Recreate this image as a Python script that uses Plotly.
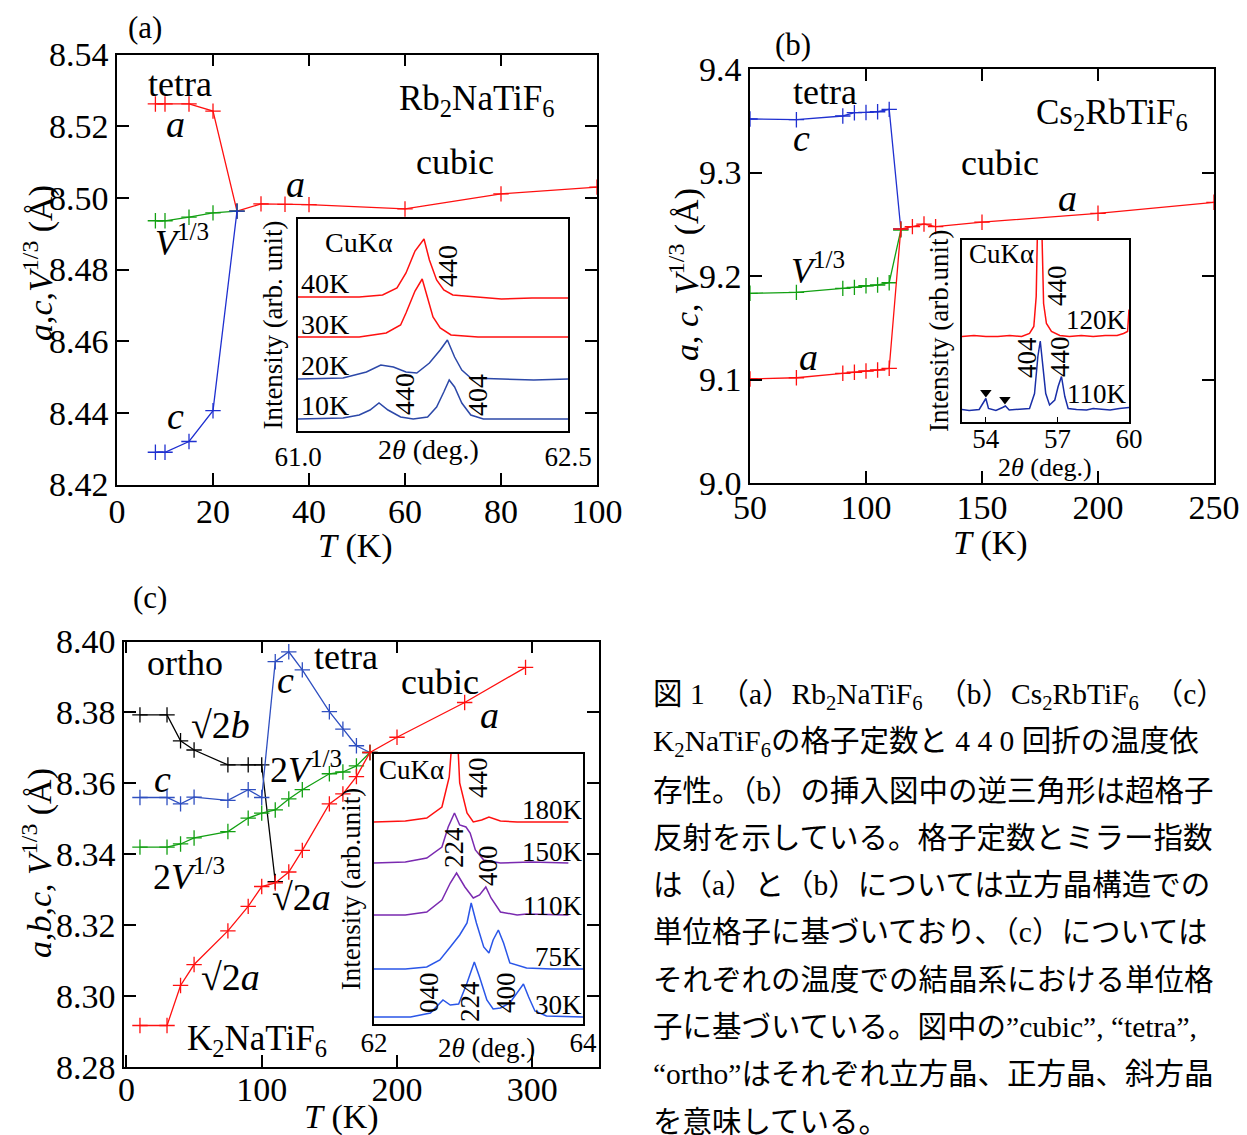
import plotly.graph_objects as go

W, H = 1247, 1135
SERIF = "Liberation Serif"
CAPF = "Liberation Serif, Noto Sans CJK JP"

# ---------------- Panel (a): Rb2NaTiF6 ----------------
a_T_a = [8, 10, 15, 20, 25, 30, 35, 40, 60, 80, 100]
a_a = [8.5262, 8.5262, 8.5262, 8.5242, 8.4963, 8.4983, 8.4982, 8.4981, 8.4969, 8.5011, 8.5030]
a_T_v = [8, 10, 15, 20, 25]
a_v = [8.4936, 8.4936, 8.4946, 8.4958, 8.4963]
a_T_c = [8, 10, 15, 20, 25]
a_c = [8.4290, 8.4290, 8.4320, 8.4406, 8.4963]

# inset (a) : 2theta (deg) vs intensity (arb.)
ia_x_40 = [61.00, 61.20, 61.34, 61.47, 61.55, 61.60, 61.65, 61.70, 61.73, 61.77, 61.81, 61.86, 62.00, 62.13, 62.30, 62.50]
ia_y_40 = [134, 134, 134, 136, 143, 158, 180, 192, 171, 151, 141, 136, 134, 132, 133, 133]
ia_x_30 = [61.00, 61.20, 61.34, 61.49, 61.57, 61.60, 61.65, 61.69, 61.72, 61.75, 61.79, 61.85, 62.00, 62.20, 62.50]
ia_y_30 = [94, 94, 94, 98, 106, 118, 140, 152, 134, 114, 103, 96, 94, 94, 94]
ia_x_20 = [61.00, 61.25, 61.38, 61.46, 61.53, 61.60, 61.66, 61.73, 61.79, 61.83, 61.87, 61.91, 61.96, 62.10, 62.31, 62.50]
ia_y_20 = [52, 53, 59, 66, 64, 59, 58, 68, 81, 91, 74, 61, 53, 52, 51, 52]
ia_x_10 = [61.00, 61.25, 61.34, 61.40, 61.45, 61.50, 61.57, 61.64, 61.72, 61.77, 61.81, 61.84, 61.87, 61.91, 61.96, 62.03, 62.50]
ia_y_10 = [12, 13, 16, 21, 28, 21, 14, 12, 14, 24, 39, 51, 44, 28, 16, 12, 12]

# ---------------- Panel (b): Cs2RbTiF6 ----------------
b_T_c = [50, 70, 90, 95, 100, 105, 110, 115]
b_c = [9.3517, 9.3510, 9.3546, 9.3578, 9.3580, 9.3587, 9.3610, 9.2454]
b_T_a = [50, 70, 90, 95, 100, 105, 110, 115, 120, 125, 130, 150, 200, 250]
b_a = [9.1005, 9.1017, 9.1060, 9.1070, 9.1082, 9.1092, 9.1108, 9.2454, 9.2477, 9.2502, 9.2477, 9.2520, 9.2606, 9.2712]
b_T_v = [50, 70, 90, 95, 100, 105, 110, 115]
b_v = [9.1833, 9.1842, 9.1880, 9.1890, 9.1906, 9.1913, 9.1935, 9.2444]

ib_x_120 = [53.0, 53.5, 54.0, 54.5, 55.0, 55.5, 55.83, 56.01, 56.11, 56.18, 56.25, 56.34, 56.42, 56.54, 56.75, 57.1, 57.5, 58.0, 58.5, 59.0, 59.5, 59.77, 59.94, 60.0]
ib_y_120 = [85, 86, 85, 85, 86, 85, 88, 95, 125, 200, 300, 200, 118, 98, 90, 86, 85, 86, 85, 86, 86, 88, 90, 112]
ib_x_110 = [53.0, 53.3, 53.72, 53.89, 54.0, 54.11, 54.42, 54.70, 54.82, 54.98, 55.4, 55.83, 56.04, 56.18, 56.28, 56.39, 56.51, 56.67, 56.89, 57.03, 57.17, 57.31, 57.45, 57.8, 58.22, 58.5, 58.9, 59.21, 59.6, 60.0]
ib_y_110 = [12, 11, 12, 18, 23, 13, 11, 14, 15.5, 11.5, 12, 13, 28, 65, 80.5, 58, 28, 16.5, 21.5, 35, 45, 25, 13, 12, 11.5, 13, 12, 11.5, 13, 14]
ib_tri_x = [54.0, 54.8]
ib_tri_y = [29, 22]

# ---------------- Panel (c): K2NaTiF6 ----------------
c_T_a = [10, 30, 40, 50, 75, 90, 100, 110, 120, 130, 150, 160, 170, 180, 200, 250, 295]
c_a = [8.2917, 8.2917, 8.3030, 8.3089, 8.3184, 8.3253, 8.3309, 8.3319, 8.3350, 8.3411, 8.3542, 8.3570, 8.3619, 8.3687, 8.3730, 8.3828, 8.3927]
c_T_c = [10, 30, 40, 50, 75, 90, 100, 110, 120, 130, 150, 160, 170, 180]
c_c = [8.3560, 8.3560, 8.3542, 8.3561, 8.3552, 8.3582, 8.3560, 8.3943, 8.3971, 8.3920, 8.3802, 8.3753, 8.3706, 8.3687]
c_T_b = [10, 30, 40, 50, 75, 90, 100, 110]
c_b = [8.3793, 8.3793, 8.3720, 8.3694, 8.3652, 8.3652, 8.3652, 8.3323]
c_T_v = [10, 30, 40, 50, 75, 90, 100, 110, 120, 130, 150, 160, 170, 180]
c_v = [8.3420, 8.3420, 8.3429, 8.3446, 8.3464, 8.3502, 8.3516, 8.3525, 8.3556, 8.3582, 8.3627, 8.3632, 8.3649, 8.3687]

ic_x_180 = [62.0, 62.3, 62.505, 62.65, 62.72, 62.78, 62.82, 62.89, 62.95, 63.03, 63.10, 63.21, 63.37, 63.6, 63.86]
ic_y_180 = [202, 203, 206, 217, 247, 330, 241, 211, 202, 204, 207, 203, 202, 202, 202]
ic_x_150 = [62.0, 62.3, 62.505, 62.65, 62.71, 62.77, 62.82, 62.88, 62.92, 62.97, 63.05, 63.21, 63.5, 63.86]
ic_y_150 = [161, 162, 166, 177, 197, 211, 199, 197, 191, 174, 164, 161, 162, 161]
ic_x_110 = [62.0, 62.3, 62.505, 62.65, 62.73, 62.79, 62.87, 62.95, 63.01, 63.07, 63.12, 63.21, 63.37, 63.46, 63.86]
ic_y_110 = [109, 109, 112, 124, 141, 151, 137, 126, 129, 137, 126, 112, 109, 110, 109]
ic_x_75 = [62.0, 62.3, 62.505, 62.63, 62.73, 62.82, 62.89, 62.93, 62.98, 63.05, 63.10, 63.14, 63.19, 63.24, 63.30, 63.46, 63.7, 64.0]
ic_y_75 = [55, 55, 57, 64, 77, 89, 101, 121, 101, 77, 71, 84, 94, 81, 61, 56, 55, 55]
ic_x_30 = [62.0, 62.35, 62.54, 62.62, 62.66, 62.73, 62.81, 62.89, 62.96, 63.01, 63.08, 63.14, 63.21, 63.30, 63.37, 63.43, 63.48, 63.54, 63.65, 64.0]
ic_y_30 = [7, 7, 11, 19, 24, 19, 20, 41, 62, 47, 24, 15, 16, 21, 31, 40, 27, 13, 8, 7]

caption_lines = [
    "図 1　（a）Rb<sub>2</sub>NaTiF<sub>6</sub>　（b）Cs<sub>2</sub>RbTiF<sub>6</sub>　（c）",
    "K<sub>2</sub>NaTiF<sub>6</sub>の格子定数と 4 4 0 回折の温度依",
    "存性。（b）の挿入図中の逆三角形は超格子",
    "反射を示している。格子定数とミラー指数",
    "は（a）と（b）については立方晶構造での",
    "単位格子に基づいており、（c）については",
    "それぞれの温度での結晶系における単位格",
    "子に基づいている。図中の”cubic”, “tetra”,",
    "“ortho”はそれぞれ立方晶、正方晶、斜方晶",
    "を意味している。",
]

RED = "#ff1010"
BLUE = "#1f30d0"
GREEN = "#12a012"
BLACK = "#000000"
NAVY = "#2c48a8"
PURPLE = "#7a2ab0"
IBLUE = "#2a56e8"

fig = go.Figure()


def series(x, y, color, ax):
    fig.add_trace(go.Scatter(
        x=x, y=y, mode="lines+markers", xaxis="x" + ax, yaxis="y" + ax,
        line=dict(color=color, width=1.3),
        marker=dict(symbol="cross-thin", size=11, line=dict(color=color, width=1.3)),
        showlegend=False, hoverinfo="x+y"))


def curve(x, y, color, ax):
    fig.add_trace(go.Scatter(
        x=x, y=y, mode="lines", xaxis="x" + ax, yaxis="y" + ax,
        line=dict(color=color, width=1.5), showlegend=False))


# panel (a)
series(a_T_a, a_a, RED, "")
series(a_T_v, a_v, GREEN, "")
series(a_T_c, a_c, BLUE, "")
curve(ia_x_40, ia_y_40, RED, "2")
curve(ia_x_30, ia_y_30, RED, "2")
curve(ia_x_20, ia_y_20, NAVY, "2")
curve(ia_x_10, ia_y_10, NAVY, "2")
# panel (b)
series(b_T_c, b_c, BLUE, "3")
series(b_T_v, b_v, GREEN, "3")
series(b_T_a, b_a, RED, "3")
curve(ib_x_120, ib_y_120, RED, "4")
curve(ib_x_110, ib_y_110, "#1a2fa8", "4")
fig.add_trace(go.Scatter(x=ib_tri_x, y=ib_tri_y, mode="markers", xaxis="x4", yaxis="y4",
                         marker=dict(symbol="triangle-down", size=10, color="black"),
                         showlegend=False))
# panel (c)
series(c_T_b, c_b, BLACK, "5")
series(c_T_c, c_c, "#2f4fc0", "5")
series(c_T_v, c_v, GREEN, "5")
series(c_T_a, c_a, RED, "5")
curve(ic_x_180, ic_y_180, RED, "6")
curve(ic_x_150, ic_y_150, PURPLE, "6")
curve(ic_x_110, ic_y_110, PURPLE, "6")
curve(ic_x_75, ic_y_75, IBLUE, "6")
curve(ic_x_30, ic_y_30, IBLUE, "6")


def xd(p0, p1):
    return [p0 / W, p1 / W]


def yd(top, bottom):
    return [1 - bottom / H, 1 - top / H]


main_common = dict(showline=True, linecolor="black", linewidth=1.6, mirror="ticks",
                   ticks="inside", ticklen=12, tickwidth=1.5, tickcolor="black",
                   showgrid=False, zeroline=False, automargin=False,
                   tickfont=dict(family=SERIF, size=34, color="black"))
ins_x_common = dict(showline=True, linecolor="black", linewidth=1.6, mirror=True,
                    ticks="inside", ticklen=5, tickwidth=1.2, tickcolor="black",
                    showgrid=False, zeroline=False, automargin=False,
                    tickfont=dict(family=SERIF, size=27, color="black"))
ins_y_common = dict(showline=True, linecolor="black", linewidth=1.6, mirror=True,
                    ticks="", showticklabels=False, showgrid=False, zeroline=False,
                    automargin=False)
ins_title_font = dict(family=SERIF, size=27, color="black")

layout = dict(
    template="none",
    width=W, height=H, margin=dict(l=0, r=0, t=0, b=0, autoexpand=False),
    paper_bgcolor="white", plot_bgcolor="rgba(0,0,0,0)",
    xaxis=dict(main_common, domain=xd(117, 597), range=[0, 100], tickvals=[0, 20, 40, 60, 80, 100],
               anchor="y", ticklabelstandoff=-4),
    yaxis=dict(main_common, domain=yd(54.5, 484.5), range=[8.42, 8.54],
               tickvals=[8.42, 8.44, 8.46, 8.48, 8.50, 8.52, 8.54], tickformat=".2f",
               anchor="x", ticklabelstandoff=0),
    xaxis2=dict(ins_x_common, domain=xd(298, 568), range=[61.0, 62.5], tickvals=[61.0, 62.5],
                ticktext=["61.0", "62.5"], anchor="y2", ticklabelstandoff=1),
    yaxis2=dict(ins_y_common, domain=yd(219, 431), range=[0, 212], anchor="x2",
                title=dict(text="Intensity (arb. unit)", font=ins_title_font, standoff=6)),
    xaxis3=dict(main_common, domain=xd(750, 1214), range=[50, 250], tickvals=[50, 100, 150, 200, 250],
                anchor="y3", ticklabelstandoff=-7),
    yaxis3=dict(main_common, domain=yd(69, 483), range=[9.0, 9.4],
                tickvals=[9.0, 9.1, 9.2, 9.3, 9.4], tickformat=".1f", anchor="x3", ticklabelstandoff=0),
    xaxis4=dict(ins_x_common, domain=xd(962, 1129), range=[53, 60], tickvals=[54, 57, 60],
                anchor="y4", ticklabelstandoff=-8),
    yaxis4=dict(ins_y_common, domain=yd(240, 421.5), range=[0, 181.5], anchor="x4",
                title=dict(text="Intensity (arb.unit)", font=ins_title_font, standoff=4)),
    xaxis5=dict(main_common, domain=xd(124, 599), range=[-1.8, 349.3], tickvals=[0, 100, 200, 300],
                anchor="y5", ticklabelstandoff=-9),
    yaxis5=dict(main_common, domain=yd(641.5, 1067), range=[8.28, 8.40],
                tickvals=[8.28, 8.30, 8.32, 8.34, 8.36, 8.38, 8.40], tickformat=".2f",
                anchor="x5", ticklabelstandoff=0),
    xaxis6=dict(ins_x_common, domain=xd(374, 583), range=[62, 64], tickvals=[62, 64],
                anchor="y6", ticklabelstandoff=-6),
    yaxis6=dict(ins_y_common, domain=yd(754, 1024), range=[0, 270], anchor="x6",
                title=dict(text="Intensity (arb.unit)", font=ins_title_font, standoff=4)),
)


def ann(text, x, y, size=33, angle=0, xanchor="center", family=SERIF):
    return dict(text=text, x=x / W, y=1 - y / H, xref="paper", yref="paper", showarrow=False,
                font=dict(family=family, size=size, color="black"), textangle=angle,
                xanchor=xanchor, yanchor="middle")


anns = [
    # axis titles of the three main panels
    ann("<i>T</i> (K)", 355, 546, 34),
    ann("<i>a</i>,<i>c</i>,<i>V</i><sup>1/3</sup> (Å)", 38, 263, 34, angle=-90),
    ann("<i>T</i> (K)", 990, 543, 34),
    ann("<i>a</i>, <i>c</i>, <i>V</i><sup>1/3</sup> (Å)", 684, 275, 34, angle=-90),
    ann("<i>T</i> (K)", 341, 1117, 34),
    ann("<i>a</i>,<i>b</i>,<i>c</i>, <i>V</i><sup>1/3</sup> (Å)", 37, 863, 34, angle=-90),
    # panel (a)
    ann("(a)", 145, 27, 31),
    ann("tetra", 180, 84, 36),
    ann("<i>a</i>", 175, 124, 38),
    ann("<i>V</i><sup>1/3</sup>", 182, 241, 36),
    ann("<i>c</i>", 175, 416, 38),
    ann("Rb<sub>2</sub>NaTiF<sub>6</sub>", 477, 100, 35),
    ann("cubic", 455, 162, 36),
    ann("<i>a</i>", 295, 184, 38),
    ann("CuKα", 359, 242, 28),
    ann("40K", 299, 283, 28, xanchor="left"),
    ann("30K", 299, 324, 28, xanchor="left"),
    ann("20K", 299, 366, 28, xanchor="left"),
    ann("10K", 299, 405, 28, xanchor="left"),
    ann("440", 447, 266, 28, angle=-90),
    ann("440", 405, 394, 28, angle=-90),
    ann("404", 477, 395, 28, angle=-90),
    ann("2<i>θ</i> (deg.)", 428, 450, 28),
    # panel (b)
    ann("(b)", 793, 45, 31),
    ann("tetra", 825, 92, 36),
    ann("Cs<sub>2</sub>RbTiF<sub>6</sub>", 1112, 114, 35),
    ann("cubic", 1000, 163, 36),
    ann("<i>c</i>", 801, 138, 38),
    ann("<i>a</i>", 1067, 198, 38),
    ann("<i>V</i><sup>1/3</sup>", 818, 268, 36),
    ann("<i>a</i>", 808, 357, 38),
    ann("CuKα", 1001, 254, 27),
    ann("440", 1057, 286, 27, angle=-90),
    ann("120K", 1096, 320, 27),
    ann("404", 1027, 358, 27, angle=-90),
    ann("440", 1060, 357, 27, angle=-90),
    ann("110K", 1096, 394, 27),
    ann("2<i>θ</i> (deg.)", 1045, 468, 26),
    # panel (c)
    ann("(c)", 150, 597, 31),
    ann("ortho", 185, 663, 36),
    ann("tetra", 346, 657, 36),
    ann("cubic", 440, 682, 36),
    ann("<i>c</i>", 285, 680, 38),
    ann("<i>a</i>", 489, 715, 38),
    ann("√2<i>b</i>", 220, 725, 38),
    ann("<i>c</i>", 162, 779, 38),
    ann("2<i>V</i><sup>1/3</sup>", 306, 767, 36),
    ann("2<i>V</i><sup>1/3</sup>", 189, 874, 36),
    ann("√2<i>a</i>", 301, 897, 38),
    ann("√2<i>a</i>", 230, 977, 38),
    ann("K<sub>2</sub>NaTiF<sub>6</sub>", 257, 1040, 35),
    ann("CuKα", 411, 770, 27),
    ann("440", 478, 778, 27, angle=-90),
    ann("180K", 552, 810, 27),
    ann("150K", 552, 852, 27),
    ann("224", 454, 848, 27, angle=-90),
    ann("400", 488, 866, 27, angle=-90),
    ann("110K", 552, 906, 27),
    ann("75K", 558, 957, 27),
    ann("040", 429, 993, 27, angle=-90),
    ann("224", 470, 1002, 27, angle=-90),
    ann("400", 506, 993, 27, angle=-90),
    ann("30K", 558, 1005, 27),
    ann("2<i>θ</i> (deg.)", 486, 1048, 27),
]
for i, line in enumerate(caption_lines):
    anns.append(ann(line, 651, 696 + 47.3 * i, 29.5, xanchor="left", family=CAPF))

layout["annotations"] = anns
fig.update_layout(**layout)
fig.write_html("out.html", config={"displayModeBar": False},
               post_script="document.body.style.margin='0px';document.body.style.overflow='hidden';")
